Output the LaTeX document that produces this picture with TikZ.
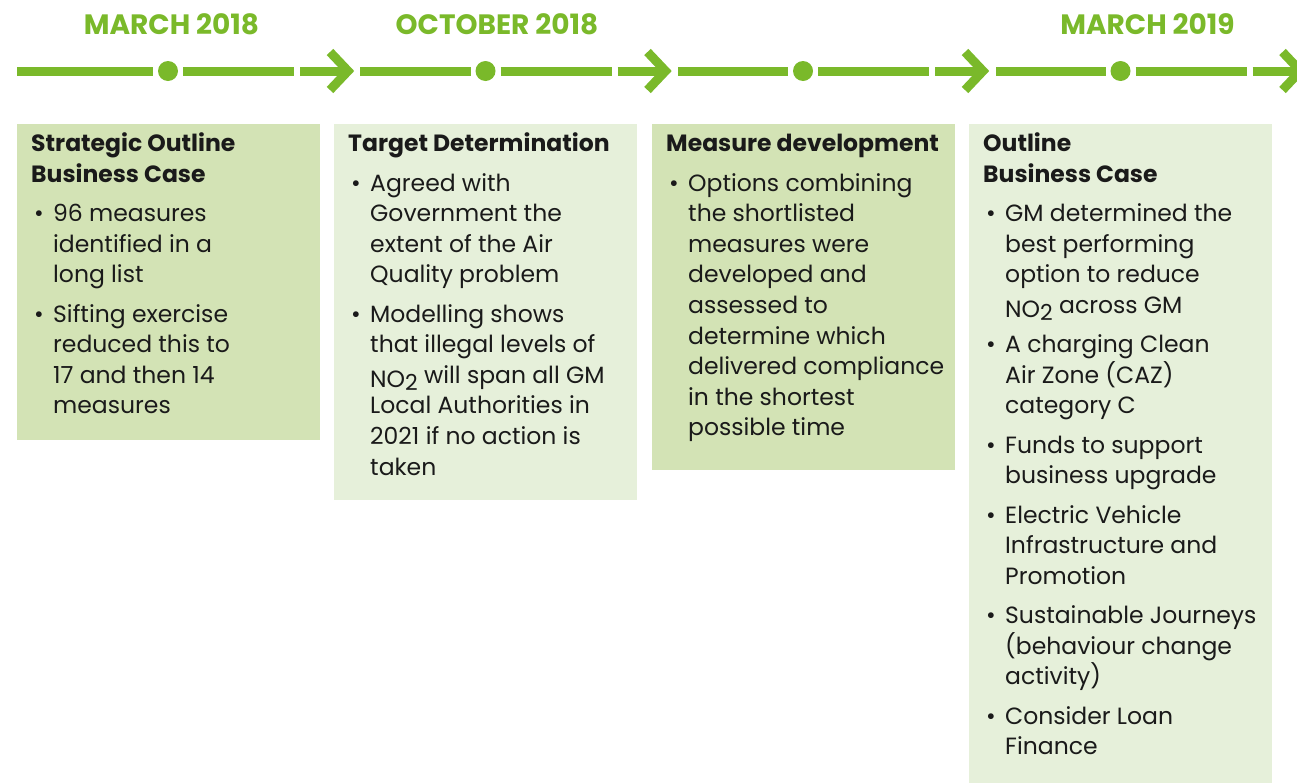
\documentclass[tikz,border=0pt]{standalone}
\usepackage{fontspec}
\setmainfont{Poppins}
\definecolor{tlgreen}{HTML}{7AB92A}
\definecolor{boxdark}{HTML}{D3E3B5}
\definecolor{boxlight}{HTML}{E6F0DA}
\definecolor{txtcol}{HTML}{1A1A1A}
\newcommand\bodysize{\fontsize{23.5}{30.6}\selectfont}
\newcommand\bitem[1]{\par\vskip8.7pt\hangindent=22pt\hangafter=1\noindent\makebox[22pt][l]{\hspace{3pt}\textbullet}#1\par}
\newcommand\NOtwo{\raisebox{-4pt}{NO}\raisebox{-7.5pt}{\fontsize{22}{22}\selectfont 2}}
\newcommand\boxtext[2]{\vtop{\hsize=#1\parindent=0pt\rightskip=0pt plus 1fil\bodysize #2}}
\tikzset{
  seg/.style={line width=9pt, tlgreen},
  chev/.style={line width=9pt, tlgreen, miter limit=10},
  tdot/.style={circle, fill=tlgreen, minimum size=20pt, inner sep=0pt},
  datelbl/.style={font=\fontsize{28}{32}\selectfont\bfseries, text=tlgreen, anchor=base, inner sep=0pt},
  panel/.style={anchor=north west, inner sep=0pt, minimum width=303pt},
  paneltext/.style={anchor=base west, inner sep=0pt, text=txtcol},
}
\begin{document}
\begin{tikzpicture}[x=1pt,y=-1pt]
\useasboundingbox (0,0) rectangle (1297,782);
% date labels
\node[datelbl] (l1) at (171.5,34) {MARCH 2018};
\node[datelbl] (l2) at (497,34) {OCTOBER 2018};
\node[datelbl] (l3) at (1147.5,34) {MARCH 2019};
% timeline
\foreach \i/\x/\s in {1/168/17, 2/485.5/360, 3/803/678, 4/1120.5/996}{
  \node[tdot] (d\i) at (\x,71) {};
  \coordinate (sa\i) at (\s,71);
  \coordinate (ea\i) at (\x-15,71);
  \coordinate (sb\i) at (\x+15,71);
  \coordinate (eb\i) at (\x+126,71);
  \coordinate (ss\i) at (\x+132,71);
  \coordinate (se\i) at (\x+177,71);
  \coordinate (ct\i) at (\x+162,52);
  \coordinate (tip\i) at (\x+180,71);
  \coordinate (cb\i) at (\x+162,90);
  \draw[seg] (sa\i) -- (ea\i);
  \draw[seg] (sb\i) -- (eb\i);
  \draw[seg] (ss\i) -- (se\i);
  \draw[chev] (ct\i) -- (tip\i) -- (cb\i);
}
% panels
\node[panel, fill=boxdark, minimum height=316pt] (p1) at (17,124) {};
\node[panel, fill=boxlight, minimum height=376pt] (p2) at (334,124) {};
\node[panel, fill=boxdark, minimum height=346pt] (p3) at (652,124) {};
\node[panel, fill=boxlight, minimum height=660pt] (p4) at (969,124) {};
% panel texts
\node[paneltext] (t1) at (31,151.7) {\boxtext{285pt}{%
  {\bfseries Strategic Outline\\Business Case}\par
  \bitem{96 measures\\identified in a\\long list}
  \bitem{Sifting exercise\\reduced this to\\17 and then 14\\measures}}};
\node[paneltext] (t2) at (348,151.7) {\boxtext{285pt}{%
  {\bfseries Target Determination}\par
  \bitem{Agreed with\\Government the\\extent of the Air\\Quality problem}
  \bitem{Modelling shows\\that illegal levels of\\\NOtwo{} will span all GM\\Local Authorities in\\2021 if no action is\\taken}}};
\node[paneltext] (t3) at (666,151.7) {\boxtext{285pt}{%
  {\bfseries Measure development}\par
  \bitem{Options combining\\the shortlisted\\measures were\\developed and\\assessed to\\determine which\\delivered compliance\\in the shortest\\possible time}}};
\node[paneltext] (t4) at (983,151.7) {\boxtext{300pt}{%
  {\bfseries Outline\\Business Case}\par
  \bitem{GM determined the\\best performing\\option to reduce\\\NOtwo{} across GM}
  \bitem{A charging Clean\\Air Zone (CAZ)\\category C}
  \bitem{Funds to support\\business upgrade}
  \bitem{Electric Vehicle\\Infrastructure and\\Promotion}
  \bitem{Sustainable Journeys\\(behaviour change\\activity)}
  \bitem{Consider Loan\\Finance}}};
\end{tikzpicture}
\end{document}
